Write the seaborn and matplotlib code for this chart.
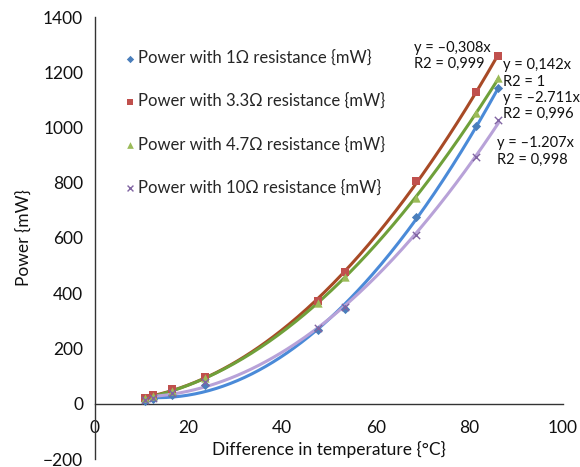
import numpy as np
import pandas as pd
import seaborn as sns
import matplotlib
matplotlib.use("Agg")
import matplotlib.pyplot as plt

sns.set_style("white")
plt.rcParams['font.family'] = ['Lato', 'DejaVu Sans']

temp_diff = [10.7, 12.4, 16.5, 23.5, 47.6, 53.4, 68.5, 81.5, 86.2]
p_1ohm   = [10, 16, 32, 68, 266, 342, 676, 1004, 1144]
p_3_3ohm = [20, 30, 52, 96, 372, 476, 808, 1130, 1260]
p_4_7ohm = [20, 27, 47, 93, 365, 460, 745, 1052, 1180]
p_10ohm  = [14, 22, 40, 80, 273, 350, 611, 892, 1027]

labels = ["Power with 1\u03a9 resistance {mW}",
          "Power with 3.3\u03a9 resistance {mW}",
          "Power with 4.7\u03a9 resistance {mW}",
          "Power with 10\u03a9 resistance {mW}"]
series = [p_1ohm, p_3_3ohm, p_4_7ohm, p_10ohm]
marker_colors = ["#4A7EBB", "#C0504D", "#9BBB59", "#8064A2"]
line_colors = ["#4A8AD8", "#A84A26", "#6FA03A", "#B8A2D8"]
markers = ["D", "s", "^", "x"]
msizes = [22, 30, 36, 28]
equations = ["y = \u20132.711x\nR2 = 0,996",
             "y = \u20130,308x\nR2 = 0,999",
             "y = 0,142x\nR2 = 1",
             "y = \u20131.207x\nR2 = 0,998"]
eq_pos = [(0.872, 0.764), (0.682, 0.878), (0.872, 0.838), (0.86, 0.662)]

rows = []
for lab, vals in zip(labels, series):
    for x, y in zip(temp_diff, vals):
        rows.append({"temp": x, "power": y, "series": lab})
df = pd.DataFrame(rows)

top_px, bot_px = 17, 459
fig = plt.figure(figsize=(5.8, 4.67), dpi=100)
ax = fig.add_axes([95/580, (467 - bot_px)/467, 468/580, (bot_px - top_px)/467])

xs = np.linspace(min(temp_diff), max(temp_diff), 200)
for vals, lc in zip(series, line_colors):
    c = np.polyfit(temp_diff, vals, 2)
    ax.plot(xs, np.polyval(c, xs), color=lc, lw=2.2, zorder=2)

for lab, mc, mk, ms in zip(labels, marker_colors, markers, msizes):
    sub = df[df.series == lab]
    sns.scatterplot(data=sub, x="temp", y="power", ax=ax, color=mc, marker=mk,
                    s=ms, label=lab, linewidth=1.0 if mk == "x" else 0, zorder=3)

for eq, (px, py) in zip(equations, eq_pos):
    ax.text(px, py, eq, transform=ax.transAxes, fontsize=10.5, va="bottom",
            ha="left", linespacing=1.2, color="#111111")

ax.set_xlim(0, 100)
ax.set_ylim(-200, 1400)
ax.set_xticks([0, 20, 40, 60, 80, 100])
ax.set_yticks(range(-200, 1401, 200))
ax.set_yticklabels(["\u2212200" if v == -200 else str(v) for v in range(-200, 1401, 200)])
ax.spines['top'].set_visible(False)
ax.spines['right'].set_visible(False)
ax.spines['bottom'].set_position(('data', 0))
for s in ['left', 'bottom']:
    ax.spines[s].set_color("#333333")
    ax.spines[s].set_linewidth(1.0)
ax.tick_params(axis='both', direction='out', length=5, width=1, colors="#333333",
               labelsize=12.5, labelcolor="#111111")
ax.tick_params(axis='x', pad=7)
ax.set_xlabel("Difference in temperature {\u00b0C}", fontsize=12.5, color="#111111")
ax.xaxis.set_label_coords(0.5, 0.04)
ax.set_ylabel("Power {mW}", fontsize=12.5, color="#111111")
ax.yaxis.set_label_coords(-0.135, 0.5)

leg = ax.legend(loc="upper left", bbox_to_anchor=(0.025, 0.96), frameon=False,
                fontsize=12, labelspacing=1.62, handletextpad=0.0,
                handlelength=1.0, markerscale=0.8)

fig.savefig("out.png", dpi=100)
